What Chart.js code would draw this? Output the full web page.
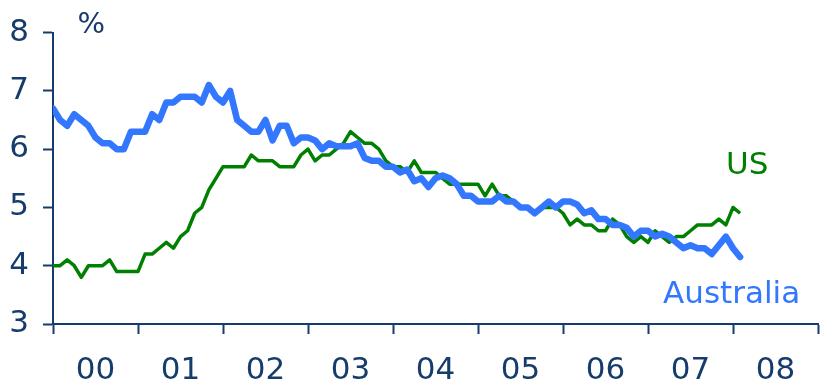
<!DOCTYPE html>
<html>
<head>
<meta charset="utf-8">
<script src="https://cdn.jsdelivr.net/npm/chart.js@4/dist/chart.umd.min.js"></script>
<style>
  html, body { margin: 0; padding: 0; background: #fff; }
  #wrap { width: 820px; height: 385px; }
</style>
</head>
<body>
<div id="wrap"><canvas id="unemp-chart"></canvas></div>
<script>
// monthly, Dec 1999 .. Jan 2008 (index 0 sits on the "00" tick)
var australia = [
  6.7, 6.5, 6.4, 6.6, 6.5, 6.4, 6.2, 6.1, 6.1, 6.0, 6.0, 6.3, 6.3,
  6.3, 6.6, 6.5, 6.8, 6.8, 6.9, 6.9, 6.9, 6.8, 7.1, 6.9, 6.8, 7.0,
  6.5, 6.4, 6.3, 6.3, 6.5, 6.15, 6.4, 6.4, 6.1, 6.2, 6.2, 6.15,
  6.0, 6.1, 6.05, 6.05, 6.05, 6.1, 5.85, 5.8, 5.8, 5.7, 5.7, 5.6,
  5.65, 5.45, 5.5, 5.35, 5.5, 5.55, 5.5, 5.4, 5.2, 5.2, 5.1, 5.1,
  5.1, 5.2, 5.1, 5.1, 5.0, 5.0, 4.9, 5.0, 5.1, 5.0, 5.1, 5.1,
  5.05, 4.9, 4.95, 4.8, 4.8, 4.7, 4.7, 4.65, 4.5, 4.6, 4.6, 4.5,
  4.55, 4.5, 4.4, 4.3, 4.35, 4.3, 4.3, 4.2, 4.35, 4.5, 4.3, 4.15
];
var us = [
  4.0,
  4.0, 4.1, 4.0, 3.8, 4.0, 4.0, 4.0, 4.1, 3.9, 3.9, 3.9, 3.9,
  4.2, 4.2, 4.3, 4.4, 4.3, 4.5, 4.6, 4.9, 5.0, 5.3, 5.5, 5.7,
  5.7, 5.7, 5.7, 5.9, 5.8, 5.8, 5.8, 5.7, 5.7, 5.7, 5.9, 6.0,
  5.8, 5.9, 5.9, 6.0, 6.1, 6.3, 6.2, 6.1, 6.1, 6.0, 5.8, 5.7,
  5.7, 5.6, 5.8, 5.6, 5.6, 5.6, 5.5, 5.4, 5.4, 5.4, 5.4, 5.4,
  5.2, 5.4, 5.2, 5.2, 5.1, 5.0, 5.0, 4.9, 5.0, 5.0, 5.0, 4.9,
  4.7, 4.8, 4.7, 4.7, 4.6, 4.6, 4.8, 4.7, 4.5, 4.4, 4.5, 4.4,
  4.6, 4.5, 4.4, 4.5, 4.5, 4.6, 4.7, 4.7, 4.7, 4.8, 4.7, 5.0,
  4.9
];
var yearLabels = ['00', '01', '02', '03', '04', '05', '06', '07', '08'];
var yTicks = [3, 4, 5, 6, 7, 8];

var navy = '#163c6c';
var green = '#008000';
var blue = '#3377ff';
var font = '"DejaVu Sans", Verdana, sans-serif';

function points(arr) {
  return arr.map(function (v, i) { return { x: i, y: v }; });
}

// tick every 6 months: year marks on the 12s, labels in between
var xTicks = [];
for (var m = 0; m <= 108; m += 6) xTicks.push(m);

var textLabels = {
  id: 'textLabels',
  afterDraw: function (chart) {
    var c = chart.ctx, xs = chart.scales.x, ys = chart.scales.y;
    c.save();
    c.textAlign = 'center';
    c.textBaseline = 'middle';
    c.fillStyle = navy;
    c.font = '29px ' + font;
    c.fillText('%', xs.getPixelForValue(5.4), ys.getPixelForValue(8.12));
    c.font = '31px ' + font;
    c.fillStyle = green;
    c.fillText('US', xs.getPixelForValue(98), ys.getPixelForValue(5.71));
    c.fillStyle = blue;
    c.fillText('Australia', xs.getPixelForValue(95.8), ys.getPixelForValue(3.5));
    c.restore();
  }
};

new Chart(document.getElementById('unemp-chart'), {
  type: 'line',
  data: {
    datasets: [
      {
        label: 'Australia',
        data: points(australia),
        borderColor: blue,
        borderWidth: 6.5,
        borderJoinStyle: 'round',
        borderCapStyle: 'round',
        pointRadius: 0,
        tension: 0
      },
      {
        label: 'US',
        data: points(us),
        borderColor: green,
        borderWidth: 3.5,
        borderJoinStyle: 'round',
        pointRadius: 0,
        tension: 0
      }
    ]
  },
  options: {
    responsive: true,
    maintainAspectRatio: false,
    animation: false,
    layout: { padding: { top: 27, right: 2, left: 0, bottom: 0 } },
    plugins: {
      legend: { display: false },
      tooltip: { enabled: false }
    },
    scales: {
      x: {
        type: 'linear',
        min: 0,
        max: 108,
        afterBuildTicks: function (axis) {
          axis.ticks = xTicks.map(function (v) { return { value: v }; });
        },
        afterFit: function (axis) {
          axis.height = 61;
          axis.paddingLeft = 0;
          axis.paddingRight = 0;
        },
        border: { display: true, color: navy, width: 2 },
        grid: {
          drawOnChartArea: false,
          tickLength: 10,
          tickWidth: 2,
          tickColor: function (ctx) {
            return ctx.tick && ctx.tick.value % 12 === 0 ? navy : 'rgba(0,0,0,0)';
          }
        },
        ticks: {
          autoSkip: false,
          maxRotation: 0,
          padding: 18,
          color: navy,
          font: { family: font, size: 31 },
          callback: function (v) {
            return v % 12 === 6 ? yearLabels[(v - 6) / 12] : '';
          }
        }
      },
      y: {
        min: 3,
        max: 8,
        afterBuildTicks: function (axis) {
          axis.ticks = yTicks.map(function (v) { return { value: v }; });
        },
        afterFit: function (axis) { axis.width = 53; },
        border: { display: true, color: navy, width: 2 },
        grid: {
          drawOnChartArea: false,
          tickLength: 10,
          tickWidth: 2,
          tickColor: navy
        },
        ticks: {
          padding: 14,
          color: navy,
          font: { family: font, size: 31 }
        }
      }
    }
  },
  plugins: [textLabels]
});
</script>
</body>
</html>
